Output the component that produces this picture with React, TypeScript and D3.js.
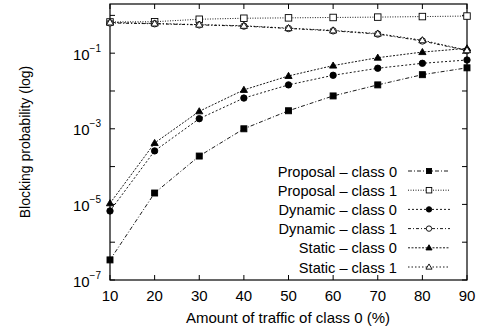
import * as d3 from 'd3';
import { useEffect, useRef } from 'react';

const TRAFFIC = [10, 20, 30, 40, 50, 60, 70, 80, 90];

const PROPOSAL_C0 = [3.4e-7, 2e-5, 1.9e-4, 1e-3, 3e-3, 7.4e-3, 0.0145, 0.027, 0.041];
const PROPOSAL_C1 = [0.67, 0.68, 0.79, 0.84, 0.86, 0.88, 0.9, 0.93, 0.96];
const DYNAMIC_C0 = [6.7e-6, 2.6e-4, 1.85e-3, 6.5e-3, 0.0145, 0.026, 0.04, 0.054, 0.066];
const DYNAMIC_C1 = [0.63, 0.6, 0.56, 0.52, 0.45, 0.39, 0.32, 0.21, 0.117];
const STATIC_C0 = [1.07e-5, 4.2e-4, 2.9e-3, 0.0107, 0.025, 0.047, 0.076, 0.107, 0.134];
const STATIC_C1 = [0.65, 0.61, 0.57, 0.53, 0.46, 0.4, 0.33, 0.22, 0.12];

const X_TICKS = [10, 20, 30, 40, 50, 60, 70, 80, 90];
const Y_TICKS = [1e-7, 1e-6, 1e-5, 1e-4, 1e-3, 1e-2, 1e-1, 1];
const Y_LABELED = [-7, -5, -3, -1];

type Marker = 'square' | 'squareOpen' | 'circle' | 'circleOpen' | 'triangle' | 'triangleOpen';

const SERIES: { name: string; values: number[]; marker: Marker; dash: string }[] = [
    { name: 'Proposal – class 0', values: PROPOSAL_C0, marker: 'square', dash: '4,2,1,2' },
    { name: 'Proposal – class 1', values: PROPOSAL_C1, marker: 'squareOpen', dash: '1,1.5' },
    { name: 'Dynamic – class 0', values: DYNAMIC_C0, marker: 'circle', dash: '2,2' },
    { name: 'Dynamic – class 1', values: DYNAMIC_C1, marker: 'circleOpen', dash: '3,2,1,2' },
    { name: 'Static – class 0', values: STATIC_C0, marker: 'triangle', dash: '2,1.5' },
    { name: 'Static – class 1', values: STATIC_C1, marker: 'triangleOpen', dash: '1.5,2' },
];

const FONT = 'Liberation Sans, Arial, sans-serif';
const FS = 15;

function drawMarker(
    g: d3.Selection<SVGGElement, unknown, null, undefined>,
    kind: Marker,
    cx: number,
    cy: number,
    scale = 1,
) {
    const filled = !kind.endsWith('Open');
    const fill = filled ? '#000' : '#fff';
    if (kind.startsWith('square')) {
        const s = (filled ? 6 : 6.5) * scale;
        g.append('rect')
            .attr('x', cx - s / 2)
            .attr('y', cy - s / 2)
            .attr('width', s)
            .attr('height', s)
            .attr('fill', fill)
            .attr('stroke', '#000')
            .attr('stroke-width', 0.9);
    } else if (kind.startsWith('circle')) {
        g.append('circle')
            .attr('cx', cx)
            .attr('cy', cy)
            .attr('r', 3.2 * scale)
            .attr('fill', fill)
            .attr('stroke', '#000')
            .attr('stroke-width', 0.9);
    } else {
        const s = 3.6 * scale;
        g.append('path')
            .attr('d', `M${cx},${cy - s}L${cx + s},${cy + s * 0.7}L${cx - s},${cy + s * 0.7}Z`)
            .attr('fill', fill)
            .attr('stroke', '#000')
            .attr('stroke-width', 0.9);
    }
}

export default function App() {
    const svgRef = useRef<SVGSVGElement | null>(null);

    useEffect(() => {
        if (!svgRef.current) {
            return;
        }
        const svg = d3.select(svgRef.current);
        svg.selectAll('*').remove();

        const left = 110;
        const right = 467;
        const top = 4;
        const bottom = 280;

        const x = d3.scaleLinear().domain([10, 90]).range([left, right]);
        const y = d3.scaleLog().domain([1e-7, 2]).range([bottom, top]);

        const g = svg.append('g');

        // frame
        g.append('rect')
            .attr('x', left)
            .attr('y', top)
            .attr('width', right - left)
            .attr('height', bottom - top)
            .attr('fill', 'none')
            .attr('stroke', '#000')
            .attr('stroke-width', 1.2);

        // x ticks, inward on both sides
        for (const t of X_TICKS) {
            const px = x(t);
            g.append('line').attr('x1', px).attr('x2', px).attr('y1', bottom).attr('y2', bottom - 5)
                .attr('stroke', '#000');
            g.append('line').attr('x1', px).attr('x2', px).attr('y1', top).attr('y2', top + 5)
                .attr('stroke', '#000');
            g.append('text')
                .attr('x', px)
                .attr('y', 301)
                .attr('text-anchor', 'middle')
                .attr('font-family', FONT)
                .attr('font-size', FS)
                .text(String(t));
        }

        for (const t of Y_TICKS) {
            const py = y(t);
            g.append('line').attr('x1', left).attr('x2', left + 5).attr('y1', py).attr('y2', py)
                .attr('stroke', '#000');
            g.append('line').attr('x1', right).attr('x2', right - 5).attr('y1', py).attr('y2', py)
                .attr('stroke', '#000');
        }

        for (const e of Y_LABELED) {
            const py = y(Math.pow(10, e));
            const txt = g.append('text')
                .attr('x', 101)
                .attr('y', py + 6.5)
                .attr('text-anchor', 'end')
                .attr('font-family', FONT)
                .attr('font-size', FS);
            txt.append('tspan').text('10');
            txt.append('tspan').attr('dy', -8).attr('font-size', 10).text(`−${-e}`);
        }

        // axis titles
        g.append('text')
            .attr('x', 288)
            .attr('y', 323)
            .attr('text-anchor', 'middle')
            .attr('font-family', FONT)
            .attr('font-size', FS)
            .text('Amount of traffic of class 0 (%)');

        g.append('text')
            .attr('transform', `translate(29.5,${(top + bottom) / 2}) rotate(-90)`)
            .attr('text-anchor', 'middle')
            .attr('font-family', FONT)
            .attr('font-size', 14)
            .text('Blocking probability (log)');

        const line = d3
            .line<number>()
            .x((_, i) => x(TRAFFIC[i]))
            .y((d) => y(d));

        for (const s of SERIES) {
            g.append('path')
                .attr('d', line(s.values))
                .attr('fill', 'none')
                .attr('stroke', '#000')
                .attr('stroke-width', 0.9)
                .attr('stroke-dasharray', s.dash);
        }
        for (const s of SERIES) {
            s.values.forEach((v, i) => drawMarker(g, s.marker, x(TRAFFIC[i]), y(v)));
        }

        // legend
        const rowY = d3.scaleLinear().domain([0, 5]).range([171, 267]);
        SERIES.forEach((s, i) => {
            const ly = rowY(i);
            g.append('text')
                .attr('x', 397)
                .attr('y', ly + 5.5)
                .attr('text-anchor', 'end')
                .attr('font-family', FONT)
                .attr('font-size', 14.6)
                .text(s.name);
            g.append('line')
                .attr('x1', 408)
                .attr('x2', 450)
                .attr('y1', ly)
                .attr('y2', ly)
                .attr('stroke', '#000')
                .attr('stroke-width', 0.9)
                .attr('stroke-dasharray', s.dash);
            drawMarker(g, s.marker, 429, ly, 0.85);
        });
    }, []);

    return (
        <div style={{ position: 'absolute', left: 0, top: 0, background: '#fff' }}>
            <svg ref={svgRef} width={481} height={332} style={{ display: 'block' }} />
        </div>
    );
}
